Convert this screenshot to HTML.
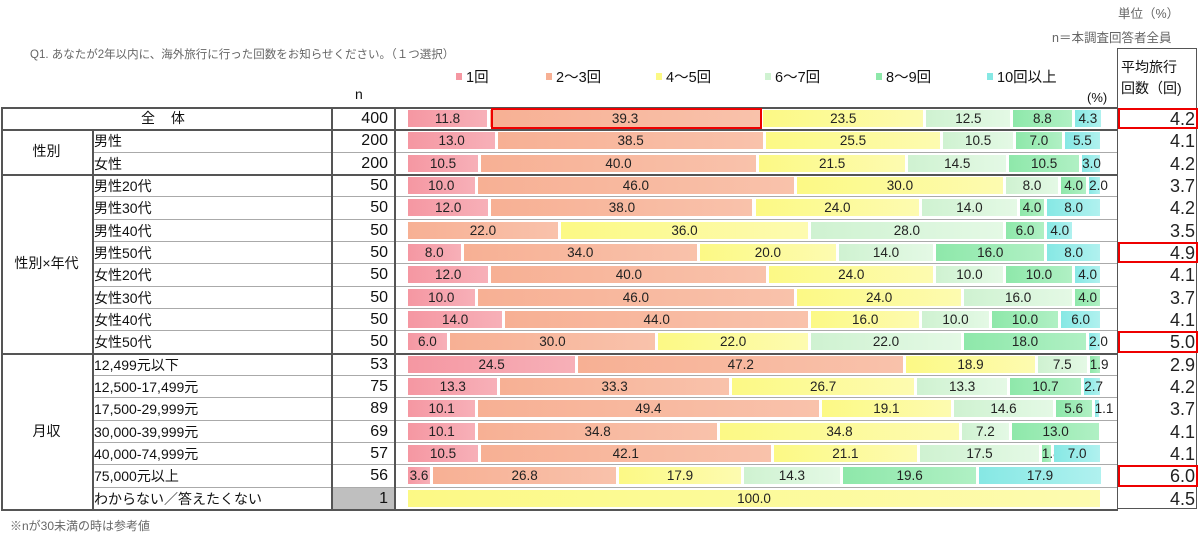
<!DOCTYPE html>
<html><head><meta charset="utf-8">
<style>
body{margin:0;background:#fff;font-family:"Liberation Sans","Noto Sans CJK JP",sans-serif;}
#root{position:relative;width:1200px;height:540px;overflow:hidden;background:#fff;}
.a{position:absolute;}
.t{position:absolute;white-space:nowrap;color:#111;}
.seg{position:absolute;font-size:13.5px;line-height:17px;text-align:center;color:#222;overflow:visible;white-space:nowrap;}
</style></head><body>
<div id="root">
<div class="t" style="left:1118px;top:3px;font-size:12.5px;color:#666">単位（%）</div>
<div class="t" style="left:1052px;top:27px;font-size:12.5px;color:#666">n＝本調査回答者全員</div>
<div class="t" style="left:30px;top:46px;font-size:11.5px;color:#666">Q1. あなたが2年以内に、海外旅行に行った回数をお知らせください。（１つ選択）</div>
<div class="t" style="left:355px;top:86px;font-size:14px">n</div>
<div class="t" style="left:1087px;top:90px;font-size:13px">(%)</div>
<div class="t" style="left:1121px;top:57px;font-size:14px;line-height:21px">平均旅行<br>回数（回)</div>
</div>
<script>
const seriesNames=["1回","2～3回","4～5回","6～7回","8～9回","10回以上"];
const rowLabels=["全 体","男性","女性","男性20代","男性30代","男性40代","男性50代","女性20代","女性30代","女性40代","女性50代","12,499元以下","12,500-17,499元","17,500-29,999元","30,000-39,999元","40,000-74,999元","75,000元以上","わからない／答えたくない"];
const nValues=[400,200,200,50,50,50,50,50,50,50,50,53,75,89,69,57,56,1];
const s1=[11.8,13.0,10.5,10.0,12.0,0,8.0,12.0,10.0,14.0,6.0,24.5,13.3,10.1,10.1,10.5,3.6,0];
const s2=[39.3,38.5,40.0,46.0,38.0,22.0,34.0,40.0,46.0,44.0,30.0,47.2,33.3,49.4,34.8,42.1,26.8,0];
const s3=[23.5,25.5,21.5,30.0,24.0,36.0,20.0,24.0,24.0,16.0,22.0,18.9,26.7,19.1,34.8,21.1,17.9,100.0];
const s4=[12.5,10.5,14.5,8.0,14.0,28.0,14.0,10.0,16.0,10.0,22.0,7.5,13.3,14.6,7.2,17.5,14.3,0];
const s5=[8.8,7.0,10.5,4.0,4.0,6.0,16.0,10.0,4.0,10.0,18.0,1.9,10.7,5.6,13.0,1.8,19.6,0];
const s6=[4.3,5.5,3.0,2.0,8.0,4.0,8.0,4.0,0,6.0,2.0,0,2.7,1.1,0,7.0,17.9,0];
const avgValues=[4.2,4.1,4.2,3.7,4.2,3.5,4.9,4.1,3.7,4.1,5.0,2.9,4.2,3.7,4.1,4.1,6.0,4.5];
const groups=[{label:"性別",from:1,to:2},{label:"性別×年代",from:3,to:10},{label:"月収",from:11,to:17}];
const highlightAvg=[0,6,10,16];
const series=[s1,s2,s3,s4,s5,s6];
const cols=[["#f597a2","#f7b0b8"],["#f7b094","#f9c2ab"],["#fcf985","#fdfbb0"],["#cff2d1","#e4f9e5"],["#8ee8aa","#b0f0c4"],["#86e8e4","#b0f1ef"]];
const root=document.getElementById('root');
const X0=408,W=695,TOP=107,RH=22.33;
function xs(v){return v/100*W;}
function ry(i){return TOP+i*RH;}
function box(x,y,w,h,css){const d=document.createElement('div');d.className='a';d.style.cssText=`left:${x}px;top:${y}px;width:${w}px;height:${h}px;`+css;root.appendChild(d);return d;}
function txt(x,y,s,css){const d=document.createElement('div');d.className='t';d.style.cssText=`left:${x}px;top:${y}px;`+css;d.textContent=s;root.appendChild(d);return d;}
const lx=[456,546,656,765,876,987];
seriesNames.forEach((n,i)=>{
 const m=box(lx[i],73,6,7,`background:${cols[i][0]}`);
 
 
 const t=txt(lx[i]+10,66,n,'font-size:14.5px;');
 
 
});
rowLabels.forEach((lab,i)=>{
 const y=ry(i);
 let l;
 if(i===0){l=txt(1,y,lab,'width:330px;text-align:center;font-size:14px;line-height:22px;letter-spacing:6px;');}
 else{l=txt(94,y+1,lab,'font-size:14px;line-height:22px;');}
 
 
 if(i===17){const g=box(332,y+1,62,RH-1,'background:#bfbfbf');}
 const nt=txt(332,y,String(nValues[i]),'width:56px;text-align:right;font-size:16px;line-height:24px;');
 
 
 const at=txt(1118,y,avgValues[i].toFixed(1),'width:77px;text-align:right;font-size:18px;line-height:24px;color:#222;');
 
 
 let cx=X0;
 series.forEach((s,k)=>{
  const v=s[i];
  if(v<=0)return;
  const w=xs(v);
  const seg=document.createElement('div');
  seg.className='seg';
  seg.style.cssText=`left:${cx}px;top:${y+3}px;width:${Math.max(w-3,1)}px;height:17px;background:linear-gradient(90deg,${cols[k][0]},${cols[k][1]});`;
  seg.textContent=v.toFixed(1);
  
  
  root.appendChild(seg);
  cx+=w;
 });
 const isGroupEnd=[0,2,10,17].includes(i);
 const hl=box(isGroupEnd?1:92,y+RH,(isGroupEnd?1117:1026),0,`border-top:${isGroupEnd?'2px solid #555':'1px solid #aaa'}`);
 
 
});
const tl=box(1,TOP,1117,0,'border-top:2px solid #555');
[[1,TOP,ry(18)],[92,ry(1),ry(18)],[331,TOP,ry(18)],[394,TOP,ry(18)]].forEach(v=>{
 const d=box(v[0],v[1],0,v[2]-v[1],'border-left:2px solid #555');
 
 
});
const av=box(1117,48,80,ry(18)-48,'border:1.5px solid #555;box-sizing:border-box;');


groups.forEach(g=>{
 const y=ry(g.from),h=ry(g.to+1)-y;
 const d=txt(1,y,g.label,`width:91px;height:${h}px;line-height:${h}px;text-align:center;font-size:14px;`);
 
 
});
const hb=box(X0+xs(s1[0])+1,ry(0)+1,xs(s2[0])-2,RH-1,'border:2px solid #e00;box-sizing:border-box;');


highlightAvg.forEach(i=>{
 const d=box(1118,ry(i)+1,80,RH-1,'border:2px solid #e00;box-sizing:border-box;');
 
 
});
const fn=txt(10,517,'※nが30未満の時は参考値','font-size:12px;color:#666;');


</script>
</body></html>
